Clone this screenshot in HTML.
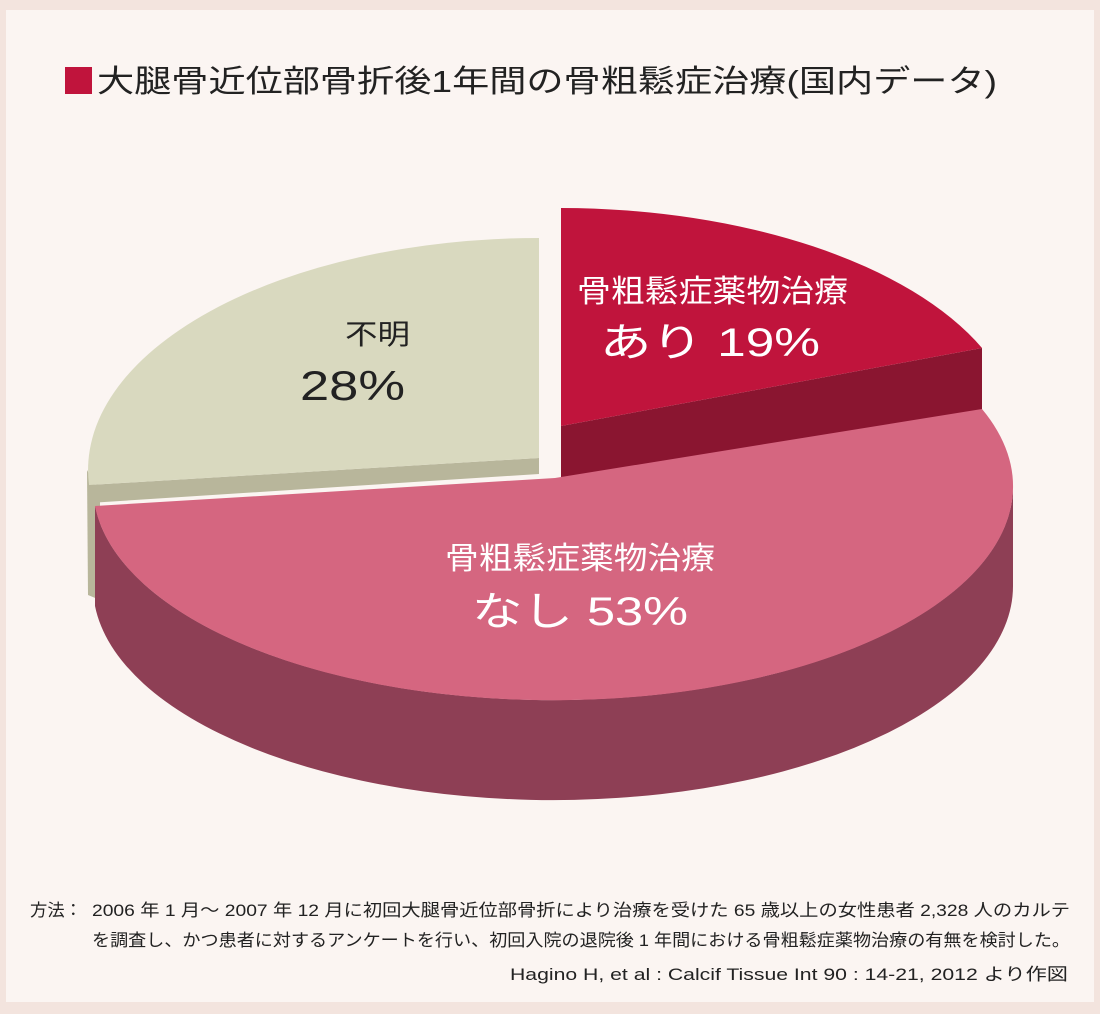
<!DOCTYPE html>
<html><head><meta charset="utf-8"><style>
html,body{margin:0;padding:0;background:#f3e4de;}
svg{display:block}
text{font-family:"Liberation Sans","Noto Sans CJK JP",sans-serif;}
</style></head><body>
<svg width="1100" height="1014" viewBox="0 0 1100 1014" xmlns="http://www.w3.org/2000/svg">
<rect x="0" y="0" width="1100" height="1014" fill="#f3e4de"/>
<rect x="6" y="10" width="1088" height="992" fill="#fbf5f2"/>
<rect x="65" y="67" width="27" height="27" fill="#c0143c"/>
<text x="97" y="92" font-size="31" fill="#222" textLength="900" lengthAdjust="spacingAndGlyphs">大腿骨近位部骨折後1年間の骨粗鬆症治療(国内データ)</text>

<!-- beige -->
<path d="M87,470 L88,595 L100,600 L100,495 Z" fill="#b8b69b"/>
<path d="M539,458 L89,485 L89,503 L539,474 Z" fill="#b8b69b"/>
<path d="M539,458 L539,238 A451,232 0 0 0 89,485 Z" fill="#d9d9bf"/>

<!-- red -->
<path d="M561,426 L982,348 L982,410 L561,480 Z" fill="#8a1530"/>
<path d="M561,426 L561,208 A460,232 0 0 1 982,348 Z" fill="#c0143c"/>

<!-- pink -->
<path d="M95,506 A460,214 0 0 0 1013,486 L1013,586 A460,214 0 0 1 95,606 Z" fill="#8e3f55"/>
<path d="M555,478 L95,506 A460,214 0 1 0 982,409 Z" fill="#d56680"/>

<!-- labels -->
<text x="577" y="302" font-size="31" fill="#fff" textLength="271" lengthAdjust="spacingAndGlyphs">骨粗鬆症薬物治療</text>
<text x="600" y="356" font-size="40" fill="#fff" textLength="220" lengthAdjust="spacingAndGlyphs">あり 19%</text>
<text x="345" y="344" font-size="28" fill="#222" textLength="65" lengthAdjust="spacingAndGlyphs">不明</text>
<text x="300" y="400" font-size="42" fill="#222" textLength="105" lengthAdjust="spacingAndGlyphs">28%</text>
<text x="445" y="569" font-size="31" fill="#fff" textLength="270" lengthAdjust="spacingAndGlyphs">骨粗鬆症薬物治療</text>
<text x="472" y="625" font-size="40" fill="#fff" textLength="216" lengthAdjust="spacingAndGlyphs">なし 53%</text>

<!-- footer -->
<text x="30" y="916" font-size="17" fill="#222" textLength="52" lengthAdjust="spacingAndGlyphs">方法：</text>
<text x="92" y="916" font-size="17" fill="#222" textLength="978" lengthAdjust="spacingAndGlyphs">2006 年 1 月～ 2007 年 12 月に初回大腿骨近位部骨折により治療を受けた 65 歳以上の女性患者 2,328 人のカルテ</text>
<text x="92" y="946" font-size="17" fill="#222" textLength="978" lengthAdjust="spacingAndGlyphs">を調査し、かつ患者に対するアンケートを行い、初回入院の退院後 1 年間における骨粗鬆症薬物治療の有無を検討した。</text>
<text x="510" y="980" font-size="17" fill="#222" textLength="558" lengthAdjust="spacingAndGlyphs">Hagino H, et al : Calcif Tissue Int 90 : 14-21, 2012 より作図</text>
</svg>
</body></html>
